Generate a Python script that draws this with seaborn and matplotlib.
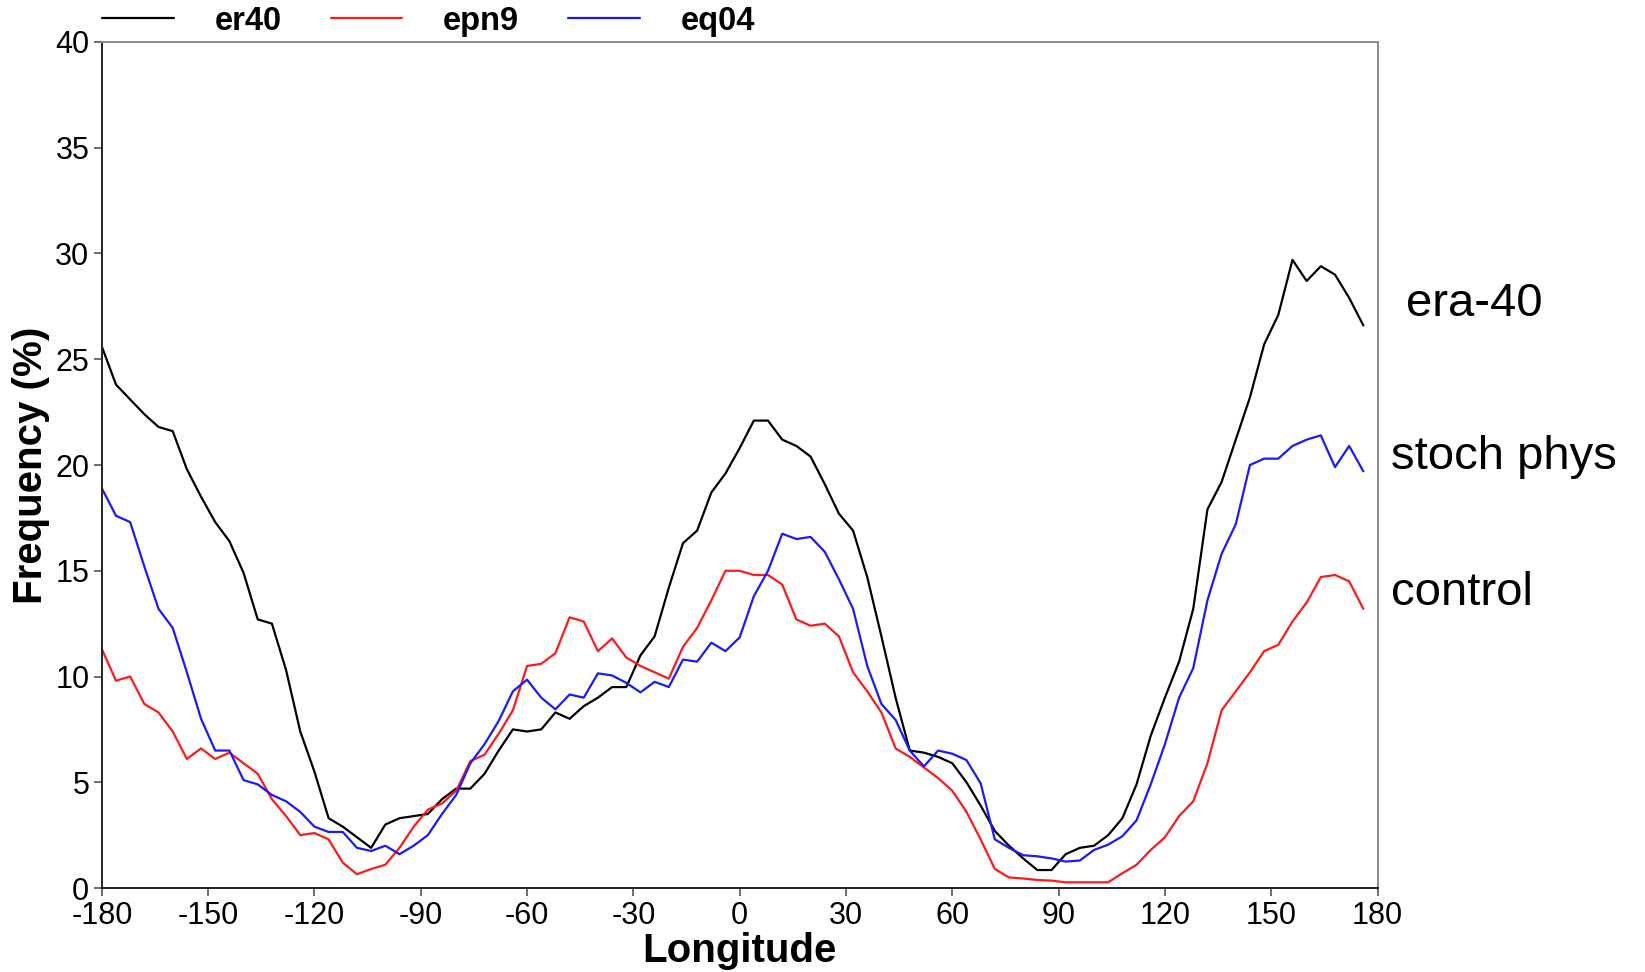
import numpy as np
import pandas as pd
import seaborn as sns
import matplotlib.pyplot as plt

# longitude of each sample (4 degree bins)
lon = np.arange(-180, 180, 4)

er40 = [25.6, 23.8, 23.1, 22.4, 21.8, 21.6, 19.8, 18.5, 17.3, 16.4,
        14.9, 12.7, 12.5, 10.3, 7.4, 5.5, 3.3, 2.9, 2.4, 1.9,
        3.0, 3.3, 3.4, 3.5, 4.2, 4.7, 4.7, 5.4, 6.5, 7.5,
        7.4, 7.5, 8.3, 8.0, 8.6, 9.0, 9.5, 9.5, 11.0, 11.9,
        14.2, 16.3, 16.9, 18.7, 19.6, 20.8, 22.1, 22.1, 21.2, 20.9,
        20.4, 19.1, 17.7, 16.9, 14.7, 11.9, 9.0, 6.5, 6.4, 6.2,
        5.9, 5.0, 3.9, 2.7, 2.0, 1.4, 0.85, 0.85, 1.6, 1.9,
        2.0, 2.5, 3.3, 4.9, 7.2, 9.0, 10.7, 13.2, 17.9, 19.2,
        21.2, 23.2, 25.7, 27.1, 29.7, 28.7, 29.4, 29.0, 27.9, 26.6]

epn9 = [11.3, 9.8, 10.0, 8.7, 8.3, 7.4, 6.1, 6.6, 6.1, 6.4,
        5.9, 5.4, 4.2, 3.4, 2.5, 2.6, 2.3, 1.2, 0.65, 0.9,
        1.1, 1.9, 2.9, 3.7, 4.0, 4.6, 6.0, 6.3, 7.3, 8.4,
        10.5, 10.6, 11.1, 12.8, 12.6, 11.2, 11.8, 10.9, 10.5, 10.2,
        9.9, 11.4, 12.3, 13.6, 15.0, 15.0, 14.8, 14.8, 14.35, 12.7,
        12.4, 12.5, 11.9, 10.2, 9.3, 8.3, 6.6, 6.2, 5.7, 5.2,
        4.6, 3.6, 2.3, 0.9, 0.5, 0.45, 0.38, 0.35, 0.27, 0.27,
        0.27, 0.27, 0.7, 1.1, 1.8, 2.4, 3.4, 4.1, 5.9, 8.4,
        9.3, 10.2, 11.2, 11.5, 12.6, 13.5, 14.7, 14.8, 14.5, 13.2]

eq04 = [18.9, 17.6, 17.3, 15.2, 13.2, 12.3, 10.2, 8.0, 6.5, 6.5,
        5.1, 4.9, 4.4, 4.1, 3.6, 2.9, 2.65, 2.65, 1.9, 1.75,
        2.0, 1.6, 2.0, 2.5, 3.5, 4.4, 5.9, 6.8, 7.9, 9.3,
        9.85, 9.0, 8.45, 9.15, 9.0, 10.15, 10.05, 9.7, 9.25, 9.75,
        9.5, 10.8, 10.7, 11.6, 11.2, 11.85, 13.8, 15.0, 16.75, 16.5,
        16.6, 15.9, 14.6, 13.2, 10.5, 8.7, 7.95, 6.5, 5.75, 6.5,
        6.35, 6.05, 4.95, 2.3, 1.9, 1.55, 1.5, 1.4, 1.25, 1.3,
        1.8, 2.05, 2.45, 3.2, 4.9, 6.8, 9.0, 10.4, 13.6, 15.8,
        17.2, 20.0, 20.3, 20.3, 20.9, 21.2, 21.4, 19.9, 20.9, 19.7]

series_names = ['er40', 'epn9', 'eq04']
side_labels = ['era-40', 'stoch phys', 'control']
colors = ['#000000', '#ff1a1a', '#1a1aff']

df = pd.DataFrame({
    'lon': np.tile(lon, 3),
    'freq': er40 + epn9 + eq04,
    'run': np.repeat(series_names, len(lon)),
})

sns.set_style('white')
plt.rcParams['font.family'] = ['Liberation Sans', 'DejaVu Sans']
plt.rcParams['axes.unicode_minus'] = False
plt.rcParams['text.color'] = 'black'
plt.rcParams['axes.labelcolor'] = 'black'
plt.rcParams['xtick.color'] = 'black'
plt.rcParams['ytick.color'] = 'black'

fig = plt.figure(figsize=(16.45, 9.72), dpi=100)
ax = fig.add_axes([0.0619, 0.0864, 0.7755, 0.8704])

sns.lineplot(data=df, x='lon', y='freq', hue='run', palette=colors,
             linewidth=1.6, legend=False, ax=ax)

ax.set_xlim(-180, 180)
ax.set_ylim(0, 40)
ax.set_xticks(range(-180, 181, 30))
ax.set_yticks(range(0, 41, 5))
ax.tick_params(axis='both', direction='out', length=6, width=1.2,
               color='#555555', labelcolor='black', labelsize=22, pad=3,
               left=True, bottom=True)

for side in ['left', 'bottom']:
    ax.spines[side].set_color('#222222')
    ax.spines[side].set_linewidth(1.4)
for side in ['top', 'right']:
    ax.spines[side].set_color('#8a8a8a')
    ax.spines[side].set_linewidth(1.4)

ax.set_xlabel('Longitude', fontsize=29, fontweight='bold')
ax.set_ylabel('Frequency (%)', fontsize=29, fontweight='bold')
ax.xaxis.set_label_coords(0.5, -0.052)
ax.yaxis.set_label_coords(-0.041, 0.5)

# legend above the plot
handles = ax.get_lines()[:3]
fig.legend(handles, series_names, loc='center left',
           bbox_to_anchor=(0.0619, 0.978), ncol=3, frameon=False,
           prop={'weight': 'bold', 'size': 23.5}, handlelength=2.2,
           handletextpad=1.25, columnspacing=1.5, borderpad=0,
           borderaxespad=0)

# labels to the right of the curves
fig.text(1406 / 1645, 1 - 304 / 972, side_labels[0], fontsize=34, va='center', ha='left')
fig.text(1391 / 1645, 1 - 457 / 972, side_labels[1], fontsize=34, va='center', ha='left')
fig.text(1391 / 1645, 1 - 593 / 972, side_labels[2], fontsize=34, va='center', ha='left')

fig.savefig('out.png', dpi=100)
